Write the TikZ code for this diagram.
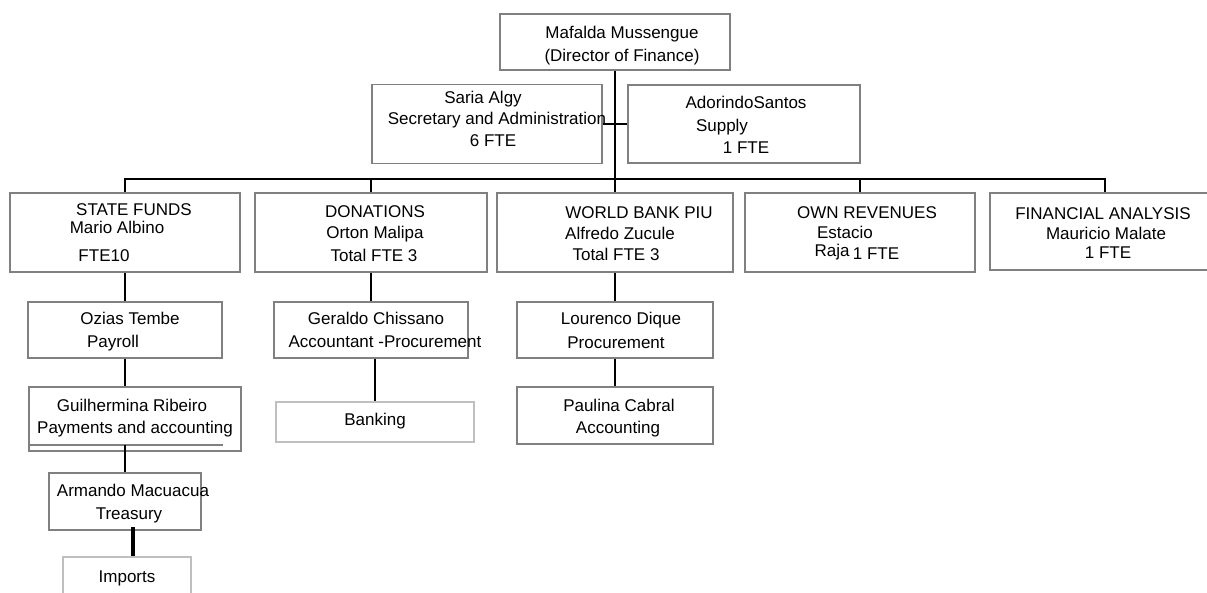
\documentclass[tikz,border=0pt]{standalone}
\usepackage{fontspec}
\setmainfont{Liberation Sans}
\usetikzlibrary{calc}

\begin{document}
\begin{tikzpicture}[x=1pt, y=-1pt,
    unit/.style={draw=black!50, line width=1.5pt, inner sep=0pt},
    pale/.style={draw=black!25, line width=1.5pt, inner sep=0pt},
    txt/.style={inner sep=0pt, anchor=base, font=\fontsize{17}{21}\selectfont},
    link/.style={line width=2pt},
    heavy/.style={line width=3.5pt}]
    \useasboundingbox (0,0) rectangle (1207,592);

    % director and staff
    \node[unit, minimum width=230pt, minimum height=56pt] (dir) at (615,42) {};
    \node[unit, minimum width=230pt, minimum height=79pt] (saria) at (487,124) {};
    \node[unit, minimum width=232pt, minimum height=78pt] (ador) at (744,124) {};

    % departments
    \node[unit, minimum width=230pt, minimum height=79pt] (state) at (125,232.5) {};
    \node[unit, minimum width=232pt, minimum height=79pt] (donat) at (371,232.5) {};
    \node[unit, minimum width=236pt, minimum height=79pt] (wbank) at (615,232.5) {};
    \node[unit, minimum width=230pt, minimum height=79pt] (ownrev) at (860,232.5) {};
    \node[unit, minimum width=230pt, minimum height=77pt] (finan) at (1105,231.5) {};

    % sections
    \node[unit, minimum width=194pt, minimum height=56pt] (ozias) at (125,330) {};
    \node[unit, minimum width=212pt, minimum height=64pt] (guil) at (135,419) {};
    \node[unit, minimum width=152pt, minimum height=57pt] (armando) at (125,501.5) {};
    \node[pale, minimum width=128pt, minimum height=46pt] (imports) at (127,580) {};
    \node[unit, minimum width=194pt, minimum height=56pt] (geraldo) at (371,330) {};
    \node[pale, minimum width=198pt, minimum height=40pt] (banking) at (375,422) {};
    \node[unit, minimum width=196pt, minimum height=56pt] (lourenco) at (615,330) {};
    \node[unit, minimum width=196pt, minimum height=57pt] (paulina) at (615,415.5) {};

    % extra rule under Guilhermina
    \coordinate (guilbar) at (125,445);
    \draw[black!50, line width=1.5pt] (guil.south west |- guilbar) -- (223,445);

    % connectors
    \coordinate (bus) at (615,179);
    \coordinate (treas) at (133,527);
    \draw[link] (dir) -- (wbank);
    \draw[link] (saria.east) -- (ador.west);
    \draw[link] (state.north) |- (bus) -| (finan.north);
    \draw[link] (donat.north) -- (donat.north |- bus);
    \draw[link] (ownrev.north) -- (ownrev.north |- bus);
    \draw[link] (state) -- (ozias);
    \draw[link] (ozias.south) -- (ozias.south |- guil.north);
    \draw[link] (guilbar) -- (armando.north);
    \draw[heavy] (treas) -- (treas |- imports.north);
    \draw[link] (donat) -- (geraldo);
    \draw[link] (geraldo.south -| banking.north) -- (banking.north);
    \draw[link] (wbank) -- (lourenco);
    \draw[link] (lourenco) -- (paulina);

    % texts
    \node[txt] at (622,38) {Mafalda Mussengue};
    \node[txt] at (622,61) {(Director of Finance)};
    \node[txt] at (483,103) {Saria Algy};
    \node[txt] at (497,124) {Secretary and Administration};
    \node[txt] at (493,146) {6 FTE};
    \node[txt] at (746,108) {AdorindoSantos};
    \node[txt] at (722,131) {Supply};
    \node[txt] at (746,153) {1 FTE};

    \node[txt] at (134,215) {STATE FUNDS};
    \node[txt] at (117,233) {Mario Albino};
    \node[txt] at (104,261) {FTE10};
    \node[txt] at (375,217) {DONATIONS};
    \node[txt] at (375,238) {Orton Malipa};
    \node[txt] at (374,261) {Total FTE 3};
    \node[txt] at (639,218) {WORLD BANK PIU};
    \node[txt] at (620,239) {Alfredo Zucule};
    \node[txt] at (616,260) {Total FTE 3};
    \node[txt] at (867,218) {OWN REVENUES};
    \node[txt] at (845,238) {Estacio};
    \node[txt] at (832,256) {Raja};
    \node[txt] at (876,259) {1 FTE};
    \node[txt] at (1103,219) {FINANCIAL ANALYSIS};
    \node[txt] at (1106,239) {Mauricio Malate};
    \node[txt] at (1108,258) {1 FTE};

    \node[txt] at (130,324) {Ozias Tembe};
    \node[txt] at (113,347) {Payroll};
    \node[txt] at (132,411) {Guilhermina Ribeiro};
    \node[txt] at (135,433) {Payments and accounting};
    \node[txt] at (133,496) {Armando Macuacua};
    \node[txt] at (129,519) {Treasury};
    \node[txt] at (127,582) {Imports};
    \node[txt] at (376,324) {Geraldo Chissano};
    \node[txt] at (385,347) {Accountant -Procurement};
    \node[txt] at (375,425) {Banking};
    \node[txt] at (621,324) {Lourenco Dique};
    \node[txt] at (616,348) {Procurement};
    \node[txt] at (619,411) {Paulina Cabral};
    \node[txt] at (618,433) {Accounting};
\end{tikzpicture}
\end{document}
